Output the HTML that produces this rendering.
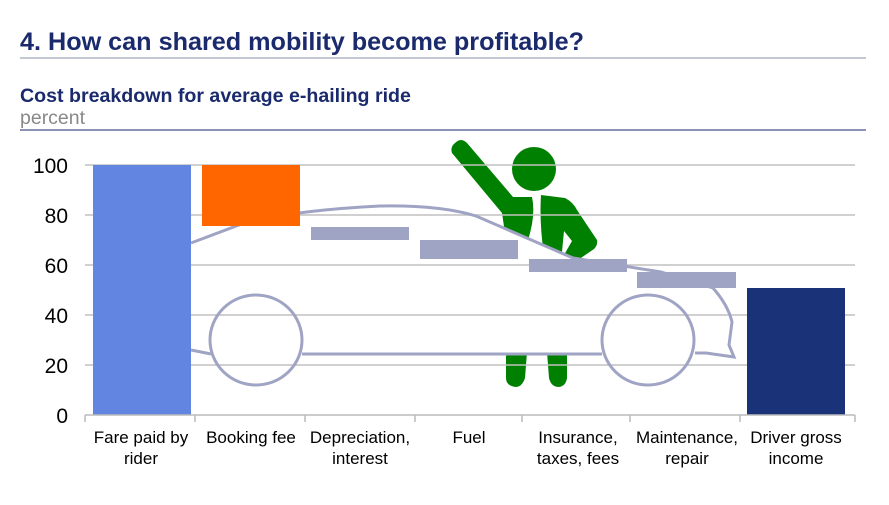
<!DOCTYPE html>
<html><head><style>
body{margin:0;width:889px;height:500px;background:#fff;font-family:"Liberation Sans",Arial,sans-serif;overflow:hidden}
</style></head><body>
<svg width="889" height="500" xmlns="http://www.w3.org/2000/svg" font-family="Liberation Sans, Arial, sans-serif">
<text x="20" y="50" font-size="25.2" font-weight="bold" fill="#1a2a6c">4. How can shared mobility become profitable?</text>
<line x1="20" y1="58" x2="866" y2="58" stroke="#8a8fa8" stroke-width="1"/>
<text x="20" y="102" font-size="19.6" font-weight="bold" fill="#1a2a6c">Cost breakdown for average e-hailing ride</text>
<text x="20" y="124" font-size="19.5" fill="#888">percent</text>
<line x1="20" y1="130" x2="866" y2="130" stroke="#1a2a6c" stroke-width="1"/>
<g fill="#008000" stroke="none">
<ellipse cx="534" cy="169" rx="22" ry="22"/>
<path d="M455 143 Q461 137 467 143 L513 197 L532 197 Q536 215 528 240 L506 240 L502 213 L452 153 Q450 147 455 143Z"/>
<path d="M541 195 L565 198 Q573 202 577 210 L597 240 Q598 245 594 249 L575 262 L560 262 L572 241 L564 231 L561 262 L545 262 Q539 225 541 195Z"/>
<path d="M506 352 L527 352 L525 378 Q522 387 516 387 Q506 386 506 378Z"/>
<path d="M547 352 L567 352 L567 378 Q566 386 559 387 Q551 387 549 378Z"/>
</g>
<path d="M191 243 L247 225 Q300 212 380 206 Q440 205 476 217 L573 258 L661 272 L713 288 Q728 305 732 322 L726 345 L732 357 L706 353 L695 353 L602 354 L302 354 L211 354 L191 350Z" fill="#fff"/>
<g stroke="#c0c0c0" stroke-width="1.5">
<line x1="85" y1="165" x2="855" y2="165"/>
<line x1="85" y1="215" x2="855" y2="215"/>
<line x1="85" y1="265" x2="855" y2="265"/>
<line x1="85" y1="315" x2="855" y2="315"/>
<line x1="85" y1="365" x2="855" y2="365"/>
</g>
<g fill="none" stroke="#a0a4c4" stroke-width="3">
<path d="M191 243 L247 222 Q300 210 380 206 Q440 205 476 216 L573 258 L661 272 L713 288 Q728 305 732 322 L729 345 L734 357 L706 353 L695 353"/>
<line x1="302" y1="354" x2="602" y2="354"/>
<line x1="191" y1="350" x2="211" y2="354"/>
<ellipse cx="256" cy="340" rx="46" ry="45"/>
<ellipse cx="648" cy="340" rx="46" ry="45"/>
</g>
<rect x="93" y="165" width="98" height="250" fill="#6185e0"/>
<rect x="202" y="165" width="98" height="61" fill="#ff6600"/>
<rect x="311" y="227" width="98" height="13" fill="#a0a4c4"/>
<rect x="420" y="240" width="98" height="19" fill="#a0a4c4"/>
<rect x="529" y="259" width="98" height="13" fill="#a0a4c4"/>
<rect x="637" y="272" width="99" height="16" fill="#a0a4c4"/>
<rect x="747" y="288" width="98" height="127" fill="#1a3278"/>
<g stroke="#bbb" stroke-width="1.5">
<line x1="85" y1="415" x2="855" y2="415"/>
<line x1="85" y1="415" x2="85" y2="422"/>
<line x1="195" y1="415" x2="195" y2="422"/>
<line x1="305" y1="415" x2="305" y2="422"/>
<line x1="415" y1="415" x2="415" y2="422"/>
<line x1="522" y1="415" x2="522" y2="422"/>
<line x1="630" y1="415" x2="630" y2="422"/>
<line x1="740" y1="415" x2="740" y2="422"/>
<line x1="855" y1="415" x2="855" y2="422"/>
</g>
<g font-size="21" fill="#000" text-anchor="end">
<text x="68" y="173">100</text><text x="68" y="223">80</text><text x="68" y="273">60</text>
<text x="68" y="323">40</text><text x="68" y="373">20</text><text x="68" y="423">0</text>
</g>
<g font-size="17" fill="#000" text-anchor="middle">
<text x="141" y="443">Fare paid by</text><text x="141" y="464">rider</text>
<text x="251" y="443">Booking fee</text>
<text x="360" y="443">Depreciation,</text><text x="360" y="464">interest</text>
<text x="469" y="443">Fuel</text>
<text x="578" y="443">Insurance,</text><text x="578" y="464">taxes, fees</text>
<text x="687" y="443">Maintenance,</text><text x="687" y="464">repair</text>
<text x="796" y="443">Driver gross</text><text x="796" y="464">income</text>
</g>
</svg>
</body></html>
